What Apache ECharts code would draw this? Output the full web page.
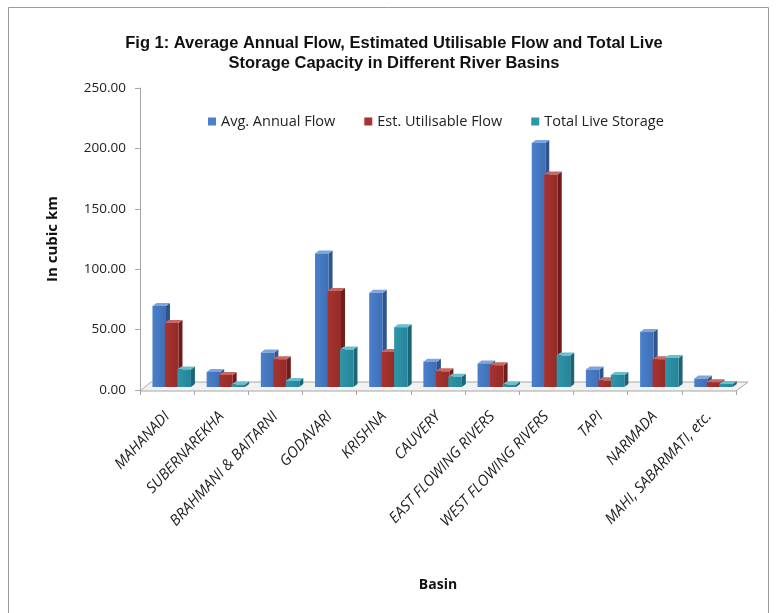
<!DOCTYPE html>
<html>
<head>
<meta charset="utf-8">
<script src="https://cdn.jsdelivr.net/npm/echarts@6/dist/echarts.min.js"></script>
<style>html,body{margin:0;padding:0;background:#fff;}#c{width:778px;height:613px;}</style>
</head>
<body>
<div id="c"></div>
<script>
var categories = ['MAHANADI','SUBERNAREKHA','BRAHMANI & BAITARNI','GODAVARI','KRISHNA','CAUVERY','EAST FLOWING RIVERS','WEST FLOWING RIVERS','TAPI','NARMADA','MAHI, SABARMATI, etc.'];
var avgAnnualFlow = [67, 12.5, 28.5, 110.5, 78, 21, 19.5, 202, 14.5, 45.5, 7];
var estUtilisableFlow = [53, 10, 23, 79.5, 29, 13, 18, 176, 5.5, 23, 4];
var totalLiveStorage = [14.5, 2, 5, 31, 49.5, 8.5, 2, 26, 10, 24, 2.5];
var seriesNames = ['Avg. Annual Flow','Est. Utilisable Flow','Total Live Storage'];
var yTicks = [0, 50, 100, 150, 200, 250];

var colors = [
  {front:'#4A80CC', frontDark:'#3F6FB5', side:'#2E5590', top:'#7DA6DE'},
  {front:'#A8332F', frontDark:'#952B28', side:'#6E1D1B', top:'#C86864'},
  {front:'#2E96A8', frontDark:'#27849A', side:'#1B6676', top:'#6BBFCC'}
];

var chart = echarts.init(document.getElementById('c'), null, {renderer:'canvas'});
var FONT = "'Liberation Sans','Open Sans',sans-serif";
var FONT2 = "'Open Sans','Liberation Sans',sans-serif";

function makeBar(sIdx, data) {
  var c = colors[sIdx];
  return {
    type: 'custom',
    name: seriesNames[sIdx],
    color: c.front,
    data: data.map(function(v, i){ return [i, v]; }),
    encode: {x: 0, y: 1},
    z: 3 + sIdx,
    renderItem: function(params, api) {
      var i = api.value(0), v = api.value(1);
      var base = api.coord([i, 0]);
      var topP = api.coord([i, v]);
      var bw = api.size([1, 0])[0];
      var catLeft = base[0] - bw / 2;
      var w = bw * 0.25;
      var x = catLeft + bw * 0.23 + sIdx * bw * 0.23;
      var yb = base[1] - 3, yt = topP[1] - 3;
      var dx = 4, dy = -3;
      return {
        type: 'group',
        children: [
          {type:'polygon', shape:{points:[[x+w,yb],[x+w+dx,yb+dy],[x+w+dx,yt+dy],[x+w,yt]]}, style:{fill:c.side}},
          {type:'polygon', shape:{points:[[x,yt],[x+w,yt],[x+w+dx,yt+dy],[x+dx,yt+dy]]}, style:{fill:c.top}},
          {type:'rect', shape:{x:x, y:yt, width:w, height:Math.max(yb-yt,0.5)},
           style:{fill:new echarts.graphic.LinearGradient(0,0,1,0,[{offset:0,color:c.front},{offset:1,color:c.frontDark}])}}
        ]
      };
    }
  };
}

var floorSeries = {
  type: 'custom',
  name: 'floor',
  silent: true,
  z: 1,
  data: [[0, 0]],
  renderItem: function(params, api) {
    var cs = params.coordSys;
    var y0 = api.coord([0, 0])[1];
    var x0 = cs.x, x1 = cs.x + cs.width;
    return {
      type: 'polygon',
      shape: {points: [[x0, y0+1], [x1, y0+1], [x1+12, y0-8], [x0+11, y0-8]]},
      style: {fill: '#F2F2F2', stroke: '#A6A6A6', lineWidth: 1}
    };
  }
};

var option = {
  backgroundColor: '#fff',
  animation: false,
  title: {
    text: 'Fig 1: Average Annual Flow, Estimated Utilisable Flow and Total Live\nStorage Capacity in Different River Basins',
    left: 389, top: 28, textAlign: 'center',
    textStyle: {fontFamily: FONT, fontWeight: 'bold', fontSize: 16.5, lineHeight: 20, color: '#111'}
  },
  legend: {
    data: seriesNames,
    left: 203, top: 109,
    itemWidth: 8, itemHeight: 8, itemGap: 29,
    icon: 'rect',
    textStyle: {fontFamily: FONT2, fontSize: 14.5, color: '#222'}
  },
  grid: {left: 140, right: 42, top: 88, bottom: 223, containLabel: false},
  xAxis: {
    type: 'category',
    data: categories,
    name: 'Basin',
    nameLocation: 'middle',
    nameGap: 188,
    nameTextStyle: {fontFamily: FONT2, fontWeight: 'bold', fontSize: 14, color: '#111'},
    axisLine: {lineStyle: {color: '#A6A6A6'}},
    axisTick: {show: true, length: 5, lineStyle: {color: '#A6A6A6'}, alignWithLabel: false},
    axisLabel: {rotate: 47, interval: 0, margin: 24, fontFamily: FONT2, fontStyle: 'italic', fontSize: 15, color: '#222'}
  },
  yAxis: {
    type: 'value',
    min: 0, max: 250, interval: 50,
    name: 'In cubic km',
    nameLocation: 'middle',
    nameGap: 80,
    nameTextStyle: {fontFamily: FONT2, fontWeight: 'bold', fontSize: 15, color: '#111'},
    axisLine: {show: true, lineStyle: {color: '#A6A6A6'}},
    axisTick: {show: true, length: 5, lineStyle: {color: '#A6A6A6'}},
    splitLine: {show: false},
    axisLabel: {margin: 14, fontFamily: FONT2, fontSize: 13.5, color: '#222',
      formatter: function(v){ return yTicks.indexOf(v) >= 0 ? v.toFixed(2) : ''; }}
  },
  graphic: [
    {type: 'rect', shape: {x: 8.5, y: 7.5, width: 760, height: 640}, style: {fill: 'none', stroke: '#9A9A9A', lineWidth: 1}, z: 0, silent: true}
  ],
  series: [floorSeries, makeBar(0, avgAnnualFlow), makeBar(1, estUtilisableFlow), makeBar(2, totalLiveStorage)]
};
chart.setOption(option);
</script>
</body>
</html>
